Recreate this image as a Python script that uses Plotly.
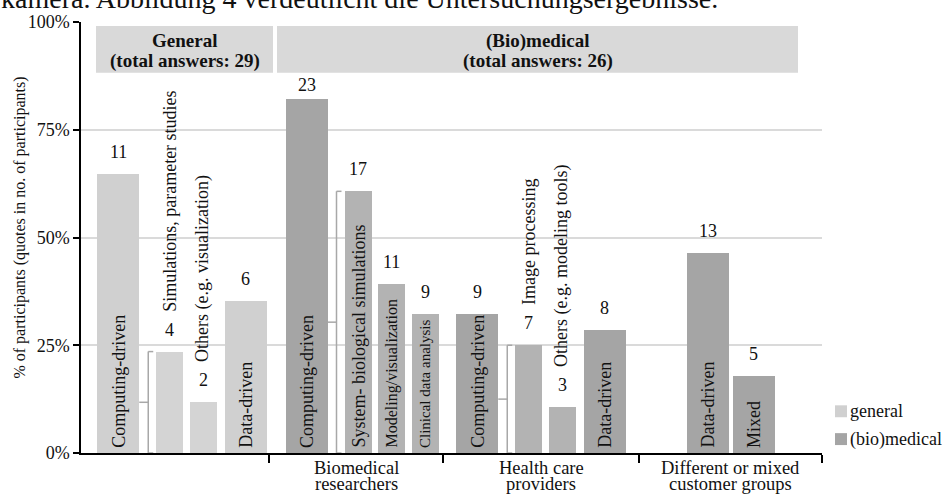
import plotly.graph_objects as go

# ---------------- data ----------------
group_lines = [
    [],
    ["Biomedical", "researchers"],
    ["Health care", "providers"],
    ["Different or mixed", "customer groups"],
]

header_titles = ["General", "(Bio)medical"]
header_totals = [29, 26]

general_names = ["Computing-driven", "Simulations, parameter studies",
                 "Others (e.g. visualization)", "Data-driven"]
general_counts = [11, 4, 2, 6]
general_groups = [0, 0, 0, 0]
general_is_sub = [False, True, True, False]
general_participants = 17

biomed_names = ["Computing-driven", "System- biological simulations",
                "Modeling/visualization", "Clinical data analysis",
                "Computing-driven", "Image processing",
                "Others (e.g. modeling tools)", "Data-driven",
                "Data-driven", "Mixed"]
biomed_counts = [23, 17, 11, 9, 9, 7, 3, 8, 13, 5]
biomed_groups = [1, 1, 1, 1, 2, 2, 2, 2, 3, 3]
biomed_is_sub = [False, True, True, True, False, True, True, False, False, False]
biomed_participants = 28

y_ticks = [0, 25, 50, 75, 100]

# ---------------- styling / layout constants ----------------
W, H = 946, 495
M_L, M_R, M_T, M_B = 81, 124, 19, 42
PLOT_W = W - M_L - M_R
PLOT_H = H - M_T - M_B

FONT = "Liberation Serif, Times New Roman, serif"
INK = "#111111"
GENERAL_MAIN, GENERAL_SUB = "#d0d0d0", "#d4d4d4"
BIO_MAIN, BIO_SUB = "#a5a5a5", "#b3b3b3"
BRACKET = "#a8a8a8"
HEADER_FILL = "#d9d9d9"

GROUP_EDGES = [0, 188, 362, 558, 741]        # category axis units
GROUP_NUDGE = [7, 6, 0, 0]                    # bars sit slightly right in the first groups
WIDE, NARROW = 42, 27
GAPS = {(False, True): 17, (True, True): 6.5, (True, False): 8, (False, False): 4}
HEADER_X = [(15, 192), (196, 717)]

# descriptions written above the bar rather than inside it
names_above = {"Simulations, parameter studies", "Others (e.g. visualization)",
               "Image processing", "Others (e.g. modeling tools)"}
label_size = {"Modeling/visualization": 16, "Clinical data analysis": 15}


def ypct(py):
    """pixel row -> value on the percentage axis"""
    return (M_T + PLOT_H - py) / PLOT_H * 100


def px_paper_x(px):
    return (px - M_L) / PLOT_W


def px_paper_y(py):
    return (M_T + PLOT_H - py) / PLOT_H


# ---------------- derived values ----------------
names = general_names + biomed_names
counts = general_counts + biomed_counts
groups = general_groups + biomed_groups
is_sub = general_is_sub + biomed_is_sub
pcts = ([c / general_participants * 100 for c in general_counts]
        + [c / biomed_participants * 100 for c in biomed_counts])
n = len(names)
n_gen = len(general_names)

# bar placement: bars of a group packed with fixed gaps, centred in the group
centers = [0.0] * n
widths = [0.0] * n
for g in range(len(GROUP_EDGES) - 1):
    idx = [i for i in range(n) if groups[i] == g]
    x, prev, lefts = 0.0, None, []
    for i in idx:
        if prev is not None:
            x += GAPS[(is_sub[prev], is_sub[i])]
        widths[i] = NARROW if is_sub[i] else WIDE
        lefts.append(x)
        x += widths[i]
        prev = i
    start = (GROUP_EDGES[g] + GROUP_EDGES[g + 1] - x) / 2 + GROUP_NUDGE[g]
    for i, left in zip(idx, lefts):
        centers[i] = start + left + widths[i] / 2

colors = []
for i in range(n):
    if i < n_gen:
        colors.append(GENERAL_SUB if is_sub[i] else GENERAL_MAIN)
    else:
        colors.append(BIO_SUB if is_sub[i] else BIO_MAIN)

fig = go.Figure()
fig.add_trace(go.Bar(
    x=centers[:n_gen], y=pcts[:n_gen], width=widths[:n_gen],
    marker=dict(color=colors[:n_gen], line=dict(width=0)),
    name="general", showlegend=False, hoverinfo="skip"))
fig.add_trace(go.Bar(
    x=centers[n_gen:], y=pcts[n_gen:], width=widths[n_gen:],
    marker=dict(color=colors[n_gen:], line=dict(width=0)),
    name="(bio)medical", showlegend=False, hoverinfo="skip"))

annotations = []
shapes = []

header_bottom = ypct(70)
header_top = ypct(23)
px_per_pct = PLOT_H / 100

for i in range(n):
    # count above bar, squeezed down when the header box is close
    room = (header_bottom - pcts[i]) * px_per_pct
    shift = min(10, room - 25)
    annotations.append(dict(
        x=centers[i], y=pcts[i], xref="x", yref="y", text=str(counts[i]),
        showarrow=False, yanchor="bottom", yshift=shift,
        font=dict(family=FONT, size=18, color=INK)))
    size = label_size.get(names[i], 18)
    if names[i] in names_above:
        annotations.append(dict(
            x=centers[i], y=pcts[i], xref="x", yref="y", text=names[i],
            showarrow=False, textangle=-90, yanchor="bottom", yshift=shift + 28,
            font=dict(family=FONT, size=size, color=INK)))
    else:
        annotations.append(dict(
            x=centers[i], y=0, xref="x", yref="y", text=names[i],
            showarrow=False, textangle=-90, yanchor="bottom", yshift=3,
            font=dict(family=FONT, size=size, color=INK)))

# brackets joining a main bar to the sub-category bars that follow it
for i in range(n - 1):
    if not is_sub[i] and is_sub[i + 1]:
        first = i + 1
        bx = centers[first] - widths[first] / 2 - 8
        top = pcts[first]
        line = dict(color=BRACKET, width=1.5)
        shapes.append(dict(type="line", xref="x", yref="y", x0=bx, x1=bx,
                           y0=0, y1=top, line=line))
        shapes.append(dict(type="line", xref="x", yref="y", x0=bx, x1=bx + 5,
                           y0=top, y1=top, line=line))
        shapes.append(dict(type="line", xref="x", yref="y", x0=bx, x1=bx + 5,
                           y0=0, y1=0, line=line))
        shapes.append(dict(type="line", xref="x", yref="y",
                           x0=centers[i] + widths[i] / 2, x1=bx,
                           y0=top / 2, y1=top / 2, line=line))

# header boxes
for (x0, x1), title, total in zip(HEADER_X, header_titles, header_totals):
    shapes.append(dict(type="rect", xref="x", yref="y", x0=x0, x1=x1,
                       y0=header_bottom, y1=header_top, fillcolor=HEADER_FILL,
                       line=dict(width=0), layer="below"))
    for text, py in ((title, 38), (f"(total answers: {total})", 58)):
        annotations.append(dict(
            x=(x0 + x1) / 2, y=ypct(py), xref="x", yref="y",
            text=f"<b>{text}</b>", showarrow=False, yanchor="middle",
            font=dict(family=FONT, size=19, color=INK)))

# category labels under the axis
for g, lines in enumerate(group_lines):
    mid = (GROUP_EDGES[g] + GROUP_EDGES[g + 1]) / 2
    for text, py in zip(lines, (468, 484)):
        annotations.append(dict(
            x=mid, y=px_paper_y(py), xref="x", yref="paper", text=text,
            showarrow=False, yanchor="middle", borderpad=0,
            font=dict(family=FONT, size=18.5, color=INK)))

# y axis title
annotations.append(dict(
    x=px_paper_x(20), y=px_paper_y(226), xref="paper", yref="paper",
    text="% of participants (quotes in no. of participants)",
    showarrow=False, textangle=-90, xanchor="center", yanchor="middle",
    font=dict(family=FONT, size=16, color=INK)))

# legend
for name, color, py in (("general", GENERAL_MAIN, 411), ("(bio)medical", BIO_MAIN, 439)):
    shapes.append(dict(type="rect", xref="paper", yref="paper",
                       x0=px_paper_x(835), x1=px_paper_x(847),
                       y0=px_paper_y(py + 6), y1=px_paper_y(py - 6),
                       fillcolor=color, line=dict(width=0)))
    annotations.append(dict(
        x=px_paper_x(848), y=px_paper_y(py), xref="paper", yref="paper",
        text=name, showarrow=False, xanchor="left", yanchor="middle",
        font=dict(family=FONT, size=18, color=INK)))

# running text of the surrounding page, cut by the top edge
annotations.append(dict(
    x=px_paper_x(0), y=px_paper_y(11.5), xref="paper", yref="paper",
    text="kamera. Abbildung 4 verdeutlicht die Untersuchungsergebnisse.",
    showarrow=False, xanchor="left", yanchor="bottom", borderpad=0,
    font=dict(family=FONT, size=28, color=INK)))

fig.update_layout(
    width=W, height=H,
    margin=dict(l=M_L, r=M_R, t=M_T, b=M_B, pad=0),
    paper_bgcolor="white", plot_bgcolor="white",
    barmode="overlay", bargap=0,
    showlegend=False,
    annotations=annotations, shapes=shapes,
    font=dict(family=FONT, size=18, color=INK),
    xaxis=dict(range=[GROUP_EDGES[0], GROUP_EDGES[-1]], showgrid=False, zeroline=False,
               showline=True, linecolor="#000000", linewidth=1.5,
               tickmode="array", tickvals=GROUP_EDGES[1:],
               ticktext=[""] * (len(GROUP_EDGES) - 1),
               ticks="outside", ticklen=8, tickwidth=1.5, tickcolor="#000000",
               fixedrange=True),
    yaxis=dict(range=[0, 100], tickmode="array", tickvals=y_ticks,
               ticktext=[f"{v}%" for v in y_ticks],
               showgrid=True, gridcolor="#dadada", gridwidth=2, zeroline=False,
               showline=True, linecolor="#000000", linewidth=1.5,
               ticks="outside", ticklen=6, tickwidth=1.5, tickcolor="#000000",
               tickfont=dict(family=FONT, size=18, color=INK),
               fixedrange=True),
)

fig.write_html("out.html")
